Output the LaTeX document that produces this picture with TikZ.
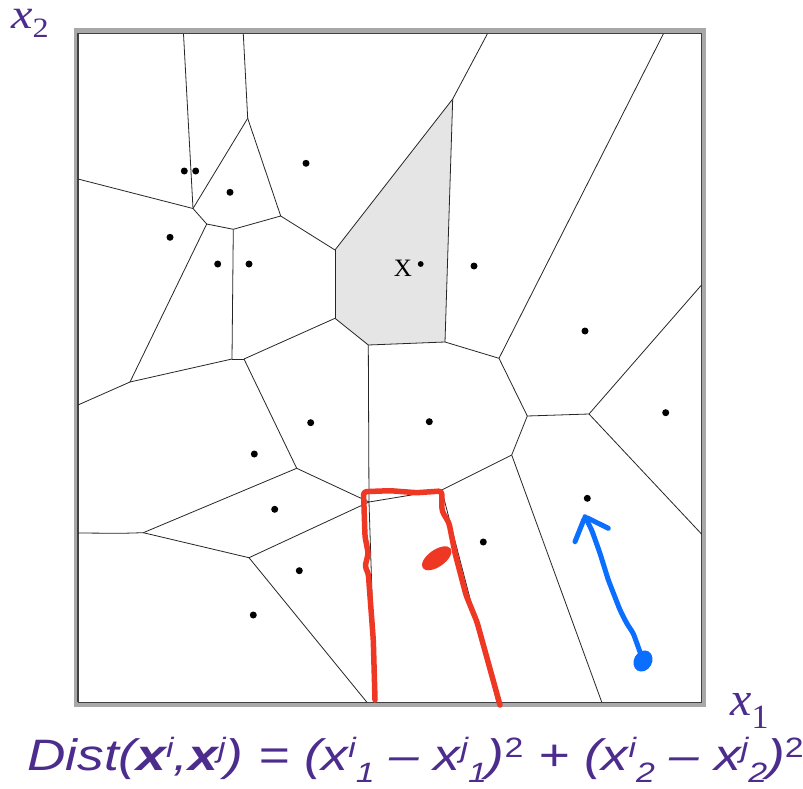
\documentclass[tikz,border=0pt]{standalone}
\usepackage{fontspec}
\setmainfont{Liberation Serif}
\newfontfamily\formfont{Liberation Sans}
\definecolor{lblpurple}{RGB}{76,44,140}
\definecolor{cellgray}{RGB}{229,229,229}
\definecolor{framegray}{RGB}{168,168,168}
\definecolor{framedark}{RGB}{64,64,64}
\definecolor{penred}{RGB}{238,56,36}
\definecolor{penblue}{RGB}{10,110,255}
\newcommand\SupS[1]{\raisebox{13pt}{\fontsize{28}{28}\selectfont #1}}
\newcommand\SubS[1]{\raisebox{-12pt}{\fontsize{28}{28}\selectfont #1}}
\begin{document}
\begin{tikzpicture}[x=1pt,y=-1pt,
  edge/.style={draw=black!85, line width=0.8pt},
  site/.style={circle, fill=black, inner sep=0pt, minimum size=7pt},
  redpen/.style={draw=penred, line width=5.5pt, line cap=round, line join=round, rounded corners=3pt},
  bluepen/.style={draw=penblue, line width=5pt, line cap=round, line join=round, rounded corners=3pt},
  lbl/.style={text=lblpurple, inner sep=0pt, anchor=base west}]
\useasboundingbox (0,0) rectangle (803,789);
\fill[white] (0,0) rectangle (803,789);
% frame
\fill[framegray] (74,28.3) rectangle (706,707);
\fill[white] (77.3,32.7) rectangle (701.5,702);
\draw[framedark, line width=1.4pt] (78,702) -- (78,33.4) -- (701.5,33.4);
\draw[framedark, line width=0.8pt] (701.5,33.4) -- (701.5,702) -- (78,702);
% vertices
\coordinate (v1) at (193,208.5);
\coordinate (v2) at (206.7,224);
\coordinate (v3) at (247.7,118.3);
\coordinate (v4) at (280.7,216);
\coordinate (v5) at (233.3,229.3);
\coordinate (v6a) at (232,359);
\coordinate (v6b) at (244,359);
\coordinate (v7) at (130,382);
\coordinate (v8) at (335,250);
\coordinate (v9) at (452.7,99);
\coordinate (v10) at (335,318.3);
\coordinate (v11) at (368.3,345);
\coordinate (v12) at (296.7,468.3);
\coordinate (v13) at (369,502);
\coordinate (v14) at (143.3,532.7);
\coordinate (v15) at (249,557.7);
\coordinate (v16) at (441.7,490);
\coordinate (v17) at (511.7,455);
\coordinate (v18) at (527.3,416);
\coordinate (v19) at (499,358.3);
\coordinate (v20) at (445,342);
\coordinate (v21) at (589,414);
\coordinate (t1) at (183.5,34);
\coordinate (t2) at (243.3,34);
\coordinate (t3) at (487.3,34);
\coordinate (t4) at (663.3,34);
\coordinate (l1) at (78,179);
\coordinate (l2) at (78,405);
\coordinate (l3) at (78,533);
\coordinate (l3b) at (121.7,533.3);
\coordinate (r1) at (701.5,285);
\coordinate (r2) at (701.5,534);
\coordinate (b1) at (366.7,702);
\coordinate (b2) at (375.5,702);
\coordinate (b3) at (497,702);
\coordinate (b4) at (601.7,702);
% gray cell
\fill[cellgray] (v8) -- (v9) -- (v20) -- (v11) -- (v10) -- cycle;
% edges
\draw[edge] (t1) -- (v1);
\draw[edge] (l1) -- (v1);
\draw[edge] (v1) -- (v2);
\draw[edge] (v1) -- (v3);
\draw[edge] (t2) -- (v3);
\draw[edge] (v3) -- (v4);
\draw[edge] (v2) -- (v5);
\draw[edge] (v5) -- (v4);
\draw[edge] (v5) -- (v6a);
\draw[edge] (v2) -- (v7);
\draw[edge] (v7) -- (l2);
\draw[edge] (v7) -- (v6a);
\draw[edge] (v6a) -- (v6b);
\draw[edge] (v4) -- (v8);
\draw[edge] (v8) -- (v9);
\draw[edge] (v9) -- (t3);
\draw[edge] (v8) -- (v10);
\draw[edge] (v10) -- (v11);
\draw[edge] (v10) -- (v6b);
\draw[edge] (v6b) -- (v12);
\draw[edge] (v12) -- (v13);
\draw[edge] (v12) -- (v14);
\draw[edge] (v14) -- (l3b) -- (l3);
\draw[edge] (v14) -- (v15);
\draw[edge] (v15) -- (v13);
\draw[edge] (v15) -- (b1);
\draw[edge] (v13) -- (b2);
\draw[edge] (v11) -- (v13);
\draw[edge] (v13) -- (v16);
\draw[edge] (v16) -- (b3);
\draw[edge] (v16) -- (v17);
\draw[edge] (v17) -- (b4);
\draw[edge] (v17) -- (v18);
\draw[edge] (v18) -- (v19);
\draw[edge] (v19) -- (t4);
\draw[edge] (v19) -- (v20);
\draw[edge] (v20) -- (v11);
\draw[edge] (v20) -- (v9);
\draw[edge] (v18) -- (v21);
\draw[edge] (v21) -- (r1);
\draw[edge] (v21) -- (r2);
% sites
\node[site] (p1) at (184.3,171) {};
\node[site] (p2) at (195.7,171) {};
\node[site] (p3) at (230,192.3) {};
\node[site] (p4) at (306,163.3) {};
\node[site] (p5) at (170,237.3) {};
\node[site] (p6) at (217.7,264) {};
\node[site] (p7) at (249,264) {};
\node[site, minimum size=5.8pt] (p8) at (420.7,264) {};
\node[site] (p9) at (474,266) {};
\node[site] (p10) at (585,331) {};
\node[site] (p11) at (310.7,422.7) {};
\node[site] (p12) at (429.3,421.7) {};
\node[site] (p13) at (254.3,454) {};
\node[site] (p14) at (274.7,509.3) {};
\node[site] (p15) at (299.3,570.7) {};
\node[site] (p16) at (253.3,615) {};
\node[site] (p17) at (665.7,412.7) {};
\node[site] (p18) at (587.3,498.3) {};
\node[site] (p19) at (483.3,542) {};
\node[font=\fontsize{25}{25}\selectfont, inner sep=0pt] (xq) at (403,268.5) {X};
% red drawing
\coordinate (ra) at (375,700);
\coordinate (rb) at (441.7,491);
\coordinate (rc) at (500,705);
\draw[redpen] (ra) -- (373.3,640) -- (368.3,573.3) -- (365,566.7) -- (368.3,553.3) -- (365,536.7) -- (363.5,491.7)
  -- (390,490.7) -- (416.7,492.7) -- (rb)
  -- (442,511) -- (449,523) -- (455,553) -- (466,595) -- (477,622) -- (rc);
\fill[penred, rotate around={35:(436.7,558.3)}] (436.7,558.3) ellipse [x radius=17pt, y radius=8.5pt];
% blue arrow
\coordinate (bs) at (640,652);
\coordinate (bt) at (585,516.7);
\fill[penblue, rotate around={60:(643,661)}] (643,661) ellipse [x radius=11pt, y radius=9pt];
\draw[bluepen] (bs) -- (633.3,633.3) -- (626.7,623.3) -- (620,610) -- (608.3,580) -- (600,553.3) -- (591.7,530) -- (bt);
\draw[bluepen] (575,541.7) -- (bt) -- (608.3,528.3);
% labels
\node[lbl] (x2lab) at (11,29) {\scalebox{1.15}[1]{{\fontsize{42}{42}\selectfont\itshape x}\raisebox{-8.5pt}{\fontsize{28}{28}\selectfont 2}}};
\node[lbl] (x1lab) at (730,715) {{\fontsize{48}{48}\selectfont\itshape x}\raisebox{-13pt}{\fontsize{34}{34}\selectfont 1}};
\node[lbl] (formula) at (27,770) {\scalebox{1.21}[1]{\formfont\itshape\fontsize{44}{44}\selectfont Dist({\bfseries x}\SupS{i},{\bfseries x}\SupS{j}) = (x\SupS{i}\SubS{1} – x\SupS{j}\SubS{1})\SupS{\upshape 2} + (x\SupS{i}\SubS{2} – x\SupS{j}\SubS{2})\SupS{\upshape 2}}};
\end{tikzpicture}
\end{document}
